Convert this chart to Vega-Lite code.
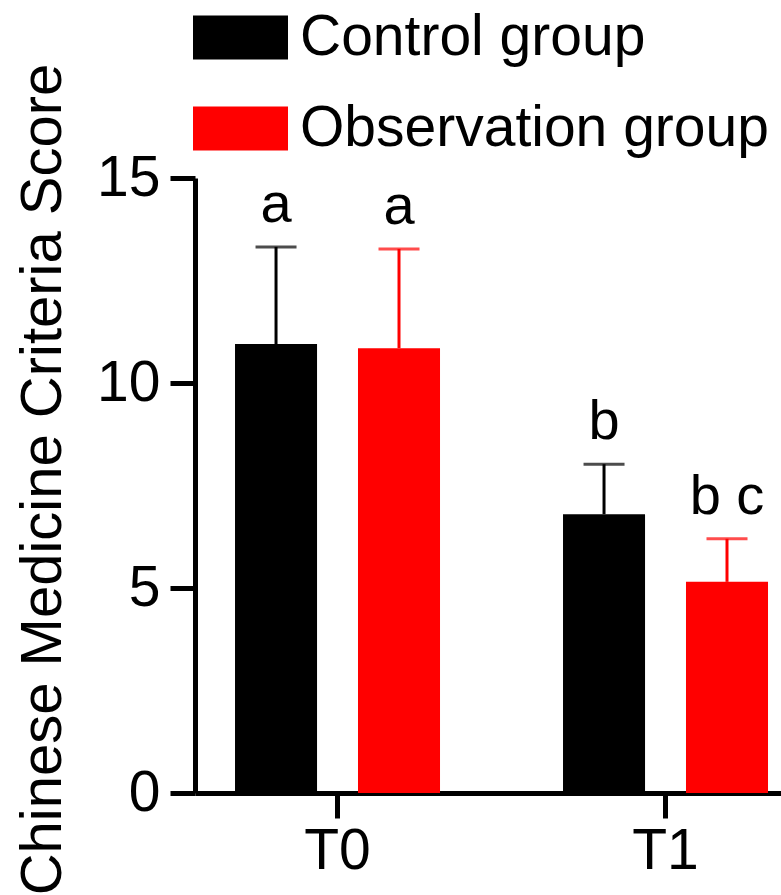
{
  "$schema": "https://vega.github.io/schema/vega-lite/v6.json",
  "width": 586,
  "height": 615,
  "autosize": {"type": "none"},
  "padding": {"left": 195, "top": 178, "right": 0, "bottom": 102},
  "background": "white",
  "config": {
    "view": {"stroke": null},
    "font": "Liberation Sans",
    "axis": {
      "domainColor": "black",
      "domainWidth": 5,
      "tickColor": "black",
      "tickWidth": 5,
      "tickSize": 25,
      "labelFont": "Liberation Sans",
      "labelFontSize": 57,
      "labelColor": "black",
      "titleFont": "Liberation Sans",
      "titleFontSize": 58,
      "titleFontWeight": "normal",
      "titleColor": "black",
      "grid": false
    }
  },
  "data": {
    "values": [
      {"time": "T0", "group": "Control group", "mean": 10.95, "upper": 13.32, "label": "a"},
      {"time": "T0", "group": "Observation group", "mean": 10.85, "upper": 13.27, "label": "a"},
      {"time": "T1", "group": "Control group", "mean": 6.8, "upper": 8.02, "label": "b"},
      {"time": "T1", "group": "Observation group", "mean": 5.15, "upper": 6.2, "label": "b c"}
    ]
  },
  "encoding": {
    "x": {
      "field": "time",
      "type": "nominal",
      "scale": {"paddingInner": 0.375, "paddingOuter": 0.0808, "align": 0.755},
      "axis": {"title": null, "labelAngle": 0, "labelPadding": 5}
    },
    "xOffset": {
      "field": "group",
      "type": "nominal",
      "scale": {"paddingInner": 0.333, "paddingOuter": 0}
    }
  },
  "layer": [
    {
      "mark": {"type": "bar"},
      "encoding": {
        "y": {
          "field": "mean",
          "type": "quantitative",
          "scale": {"domain": [0, 15], "nice": false, "zero": true},
          "axis": {
            "values": [0, 5, 10, 15],
            "title": "Chinese Medicine Criteria Score",
            "labelPadding": 10,
            "titleX": -135,
            "titleY": 301,
            "titleBaseline": "alphabetic",
            "titleAngle": -90
          }
        },
        "color": {
          "field": "group",
          "type": "nominal",
          "scale": {"domain": ["Control group", "Observation group"], "range": ["#000000", "#ff0000"]},
          "legend": {
            "title": null,
            "orient": "none",
            "legendX": -2,
            "legendY": -188,
            "symbolType": "M-1,-0.463H1V0.463H-1Z",
            "symbolSize": 9025,
            "symbolStrokeWidth": 0,
            "labelFont": "Liberation Sans",
            "labelFontSize": 57,
            "labelColor": "black",
            "labelOffset": 12,
            "rowPadding": 15,
            "labelLimit": 1000
          }
        }
      }
    },
    {
      "mark": {"type": "rule", "strokeWidth": 3},
      "encoding": {
        "y": {"field": "mean", "type": "quantitative"},
        "y2": {"field": "upper"},
        "color": {"field": "group", "type": "nominal", "legend": null}
      }
    },
    {
      "mark": {"type": "tick", "size": 41, "thickness": 3, "orient": "horizontal"},
      "encoding": {
        "y": {"field": "upper", "type": "quantitative"},
        "color": {"field": "group", "type": "nominal", "legend": null}
      }
    },
    {
      "mark": {"type": "text", "dy": -25, "baseline": "alphabetic", "fontSize": 56, "font": "Liberation Sans", "color": "black"},
      "encoding": {
        "y": {"field": "upper", "type": "quantitative"},
        "text": {"field": "label"}
      }
    }
  ]
}
